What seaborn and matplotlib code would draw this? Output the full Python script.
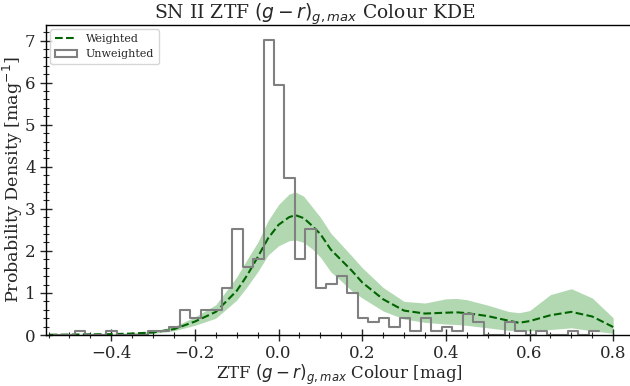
import numpy as np
import pandas as pd
import matplotlib
matplotlib.use("Agg")
import matplotlib.pyplot as plt
import seaborn as sns
from matplotlib.patches import Patch
from matplotlib.lines import Line2D
from matplotlib.ticker import MultipleLocator

# ---- Histogram (unweighted), density heights per bin ----
bin_start = -0.538
bin_width = 0.0251
hist_heights = [0.0, 0.0, 0.1009, 0.0, 0.0, 0.1009, 0.0, 0.0, 0.0, 0.1009,
                0.1009, 0.2018, 0.6054, 0.4036, 0.6054, 0.6054, 1.1099, 2.5225,
                1.6144, 1.8162, 7.0200, 5.9531, 3.7333, 1.8162, 2.5225, 1.1099,
                1.2108, 1.4126, 1.0090, 0.4036, 0.3027, 0.4036, 0.2018, 0.4036,
                0.1009, 0.4036, 0.1009, 0.2018, 0.1009, 0.5045, 0.3027, 0.0,
                0.0, 0.3027, 0.1009, 0.0, 0.1009, 0.0, 0.0, 0.1009, 0.0, 0.1009]

# ---- Weighted KDE: median and band ----
kde_x = [-0.60, -0.55, -0.50, -0.45, -0.40, -0.35, -0.30, -0.25, -0.20, -0.15,
         -0.10, -0.075, -0.05, -0.025, 0.00, 0.025, 0.04, 0.06, 0.08, 0.10,
         0.125, 0.15, 0.175, 0.20, 0.25, 0.30, 0.35, 0.40, 0.425, 0.45,
         0.50, 0.55, 0.575, 0.60, 0.65, 0.70, 0.75, 0.80]
kde_med = [0.000, 0.005, 0.010, 0.015, 0.020, 0.035, 0.060, 0.140, 0.320, 0.550,
           1.050, 1.420, 1.850, 2.300, 2.620, 2.800, 2.850, 2.780, 2.600, 2.400,
           2.030, 1.780, 1.530, 1.250, 0.850, 0.580, 0.510, 0.530, 0.540, 0.520,
           0.450, 0.340, 0.290, 0.330, 0.470, 0.550, 0.440, 0.190]
kde_lo = [0.000, 0.003, 0.005, 0.008, 0.010, 0.020, 0.040, 0.100, 0.230, 0.400,
          0.830, 1.150, 1.500, 1.900, 2.120, 2.240, 2.260, 2.200, 2.050, 1.850,
          1.500, 1.280, 1.050, 0.880, 0.570, 0.380, 0.300, 0.260, 0.250, 0.230,
          0.170, 0.110, 0.090, 0.100, 0.130, 0.170, 0.100, 0.040]
kde_hi = [0.000, 0.008, 0.015, 0.020, 0.030, 0.050, 0.090, 0.200, 0.430, 0.720,
          1.380, 1.800, 2.200, 2.720, 3.100, 3.350, 3.400, 3.300, 3.050, 2.800,
          2.420, 2.150, 1.880, 1.600, 1.130, 0.800, 0.760, 0.860, 0.870, 0.840,
          0.710, 0.560, 0.530, 0.580, 0.960, 1.100, 0.880, 0.410]

edges = [bin_start + bin_width * i for i in range(len(hist_heights) + 1)]
centers = [0.5 * (edges[i] + edges[i + 1]) for i in range(len(hist_heights))]
hist_df = pd.DataFrame({"colour": centers, "height": hist_heights})

sns.set_style("ticks")
plt.rcParams['font.family'] = ['DejaVu Serif']
plt.rcParams['mathtext.fontset'] = 'dejavusans'

fig = plt.figure(figsize=(6.3, 3.86), dpi=100)
ax = fig.add_axes([46/630, 51/386, (632-46)/630, (335-25)/386])

ax.fill_between(kde_x, kde_lo, kde_hi, color='green', alpha=0.3, linewidth=0)
sns.lineplot(x=kde_x, y=kde_med, ax=ax, color='darkgreen', linestyle='--',
             linewidth=1.5, sort=False)
sns.histplot(data=hist_df, x="colour", weights="height", bins=edges,
             element='step', fill=False, color='gray', linewidth=1.5, ax=ax,
             stat='count')

ax.set_xlim(-0.556, 0.845)
ax.set_ylim(0, 7.37)
ax.xaxis.set_major_locator(MultipleLocator(0.2))
ax.xaxis.set_minor_locator(MultipleLocator(0.05))
ax.yaxis.set_major_locator(MultipleLocator(1))
ax.yaxis.set_minor_locator(MultipleLocator(0.2))
ax.tick_params(which='major', direction='inout', length=8, width=1, labelsize=12)
ax.tick_params(which='minor', direction='inout', length=4, width=0.8)
for s in ax.spines.values():
    s.set_linewidth(1.0)
    s.set_color('black')

ax.set_xlabel(r'ZTF $(g-r)_{g,max}$ Colour [mag]', fontsize=12, labelpad=0)
ax.set_ylabel(r'Probability Density [mag$^{-1}$]', fontsize=12.6, labelpad=0)
fig.suptitle(r'SN II ZTF $(g-r)_{g,max}$ Colour KDE', fontsize=13.5,
             x=0.5, y=0.995, va='top')

handles = [Line2D([0], [0], color='darkgreen', linestyle='--', linewidth=1.5),
           Patch(facecolor='none', edgecolor='gray', linewidth=1.5)]
ax.legend(handles, ['Weighted', 'Unweighted'], loc='upper left', fontsize=8,
          frameon=True, handlelength=2.0, borderaxespad=0.4)

fig.savefig('out.png', dpi=100)
